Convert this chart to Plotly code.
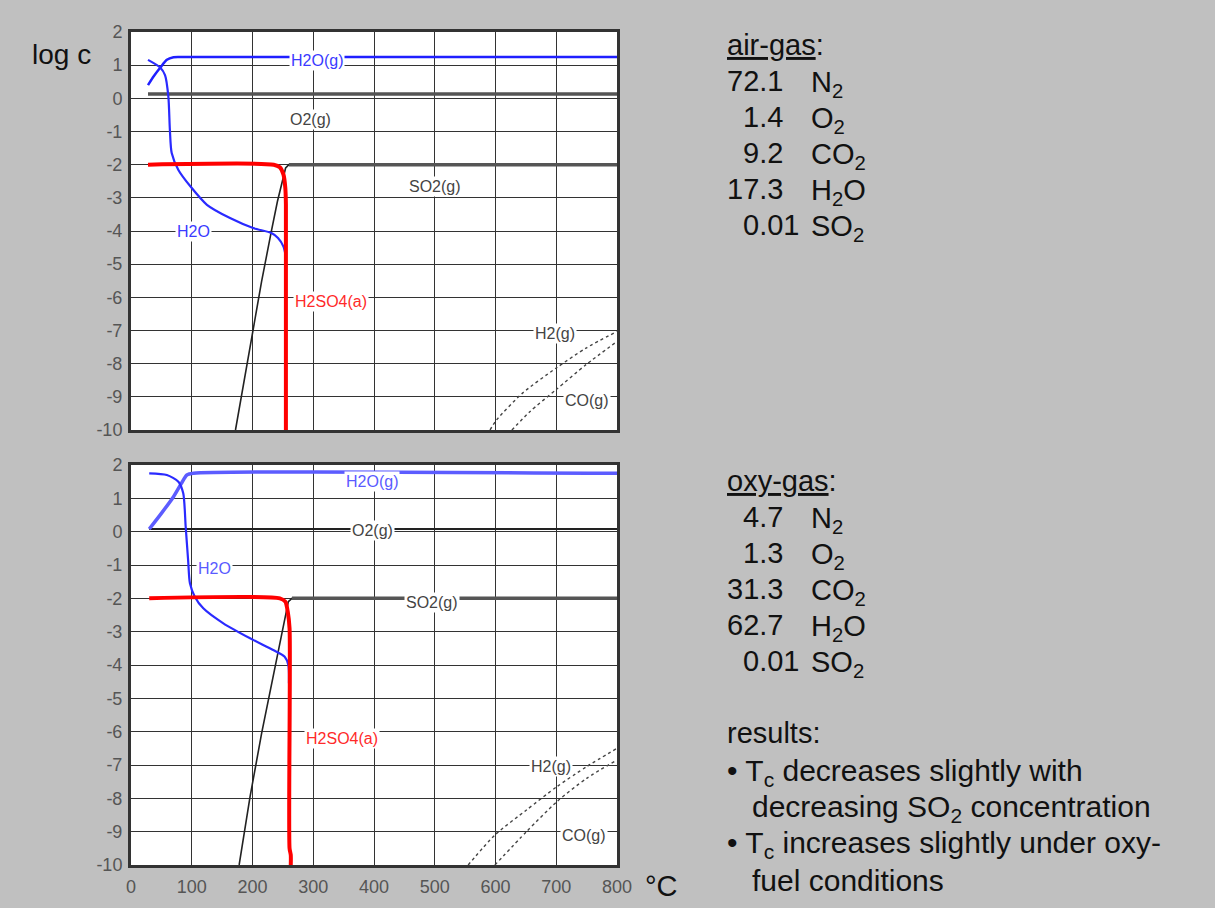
import plotly.graph_objects as go

W, H = 1215, 908

# ---------------- air-gas: log c vs temperature (°C) ----------------
air_h2o_g_T = [28, 38, 48, 59, 70, 80, 800]
air_h2o_g_c = [0.40, 0.68, 0.92, 1.16, 1.24, 1.25, 1.25]

air_h2o_l_T = [28, 48, 56, 61.5, 64, 67, 78, 98, 125, 163, 201, 231, 242, 251, 255]
air_h2o_l_c = [1.16, 0.93, 0.70, 0.05, -0.95, -1.65, -2.16, -2.66, -3.21, -3.61, -3.91, -4.06, -4.21, -4.47, -4.78]

air_o2_T = [28, 800]
air_o2_c = [0.13, 0.13]

air_so2_T = [172, 201, 215, 231, 241, 254.5, 260, 800]
air_so2_c = [-10, -6.98, -5.52, -4.01, -3.11, -2.10, -2.0, -2.0]

air_h2so4_T = [28, 235, 245, 251, 254, 255, 255]
air_h2so4_c = [-2.0, -2.0, -2.08, -2.3, -2.7, -3.2, -10]

air_h2_T = [591, 602, 645, 700, 749, 800]
air_h2_c = [-10, -9.69, -8.88, -8.13, -7.53, -7.03]

air_co_T = [627, 657, 700, 749, 800]
air_co_c = [-10, -9.44, -8.78, -8.03, -7.33]

# ---------------- oxy-gas ----------------
oxy_h2o_g_T = [30, 50, 70, 83, 92, 103, 800]
oxy_h2o_g_c = [0.08, 0.55, 1.05, 1.45, 1.70, 1.75, 1.75]

oxy_h2o_l_T = [30, 59, 78, 86, 90, 94, 97, 105, 119, 152, 196, 234, 253, 259, 260]
oxy_h2o_l_c = [1.75, 1.70, 1.50, 1.15, 0.15, -0.85, -1.55, -1.95, -2.30, -2.75, -3.20, -3.55, -3.75, -4.0, -4.55]

oxy_o2_T = [30, 800]
oxy_o2_c = [0.08, 0.08]

oxy_so2_T = [178, 196, 215, 240, 259, 265, 800]
oxy_so2_c = [-10, -7.95, -6.05, -3.85, -2.10, -2.0, -2.0]

oxy_h2so4_T = [30, 245, 254, 258, 261, 261, 263, 263]
oxy_h2so4_c = [-2.0, -2.0, -2.1, -2.4, -2.9, -9.5, -9.7, -10]

oxy_h2_T = [555, 599, 651, 701, 750, 800]
oxy_h2_c = [-10, -9.1, -8.35, -7.65, -7.05, -6.5]

oxy_co_T = [599, 651, 701, 750, 800]
oxy_co_c = [-10, -9.0, -8.1, -7.4, -6.85]

# curve labels: (text, T, log c, colour)
air_labels = [
    ("H2O(g)", 306, 1.15, "#3a3aff"),
    ("O2(g)", 296, -0.65, "#444444"),
    ("SO2(g)", 500, -2.66, "#444444"),
    ("H2O", 103, -4.01, "#3a3aff"),
    ("H2SO4(a)", 330, -6.12, "#ff2a2a"),
    ("H2(g)", 698, -7.1, "#444444"),
    ("CO(g)", 750, -9.12, "#444444"),
]
oxy_labels = [
    ("H2O(g)", 397, 1.5, "#5a5aff"),
    ("O2(g)", 397, 0.05, "#444444"),
    ("H2O", 138, -1.1, "#5a5aff"),
    ("SO2(g)", 495, -2.12, "#444444"),
    ("H2SO4(a)", 347, -6.2, "#ff2a2a"),
    ("H2(g)", 691, -7.03, "#444444"),
    ("CO(g)", 745, -9.1, "#444444"),
]

x_ticks = [0, 100, 200, 300, 400, 500, 600, 700, 800]
y_ticks = [2, 1, 0, -1, -2, -3, -4, -5, -6, -7, -8, -9, -10]

# composition tables (vol-%)
air_values = ["72.1", "1.4", "9.2", "17.3", "0.01"]
oxy_values = ["4.7", "1.3", "31.3", "62.7", "0.01"]
species = ["N<sub>2</sub>", "O<sub>2</sub>", "CO<sub>2</sub>", "H<sub>2</sub>O", "SO<sub>2</sub>"]
results = [
    ("• T<sub>c</sub> decreases slightly with", 727),
    ("decreasing SO<sub>2</sub> concentration", 752),
    ("• T<sub>c</sub> increases slightly under oxy-", 727),
    ("fuel conditions", 752),
]

fig = go.Figure()


def add_curve(xs, ys, color, width, ax, dash="solid", shape="linear"):
    suffix = "" if ax == 1 else str(ax)
    fig.add_trace(go.Scatter(
        x=xs, y=ys, mode="lines",
        line=dict(color=color, width=width, dash=dash, shape=shape, smoothing=0.7),
        xaxis="x" + suffix, yaxis="y" + suffix,
        showlegend=False, hoverinfo="skip",
    ))


# air-gas panel
add_curve(air_o2_T, air_o2_c, "#555555", 3.5, 1)
add_curve(air_so2_T, air_so2_c, "#222222", 1.6, 1)
add_curve(air_so2_T[-2:], air_so2_c[-2:], "#555555", 3.5, 1)
add_curve(air_h2_T, air_h2_c, "#444444", 1.4, 1, dash="dot", shape="spline")
add_curve(air_co_T, air_co_c, "#444444", 1.4, 1, dash="dot", shape="spline")
add_curve(air_h2o_g_T, air_h2o_g_c, "#1f1fff", 2.5, 1, shape="spline")
add_curve(air_h2o_l_T, air_h2o_l_c, "#2a2aff", 2.2, 1, shape="spline")
add_curve(air_h2so4_T, air_h2so4_c, "#ff0000", 4, 1, shape="spline")

# oxy-gas panel
add_curve(oxy_o2_T, oxy_o2_c, "#222222", 2.2, 2)
add_curve(oxy_so2_T, oxy_so2_c, "#222222", 1.6, 2)
add_curve(oxy_so2_T[-2:], oxy_so2_c[-2:], "#555555", 3.5, 2)
add_curve(oxy_h2_T, oxy_h2_c, "#444444", 1.4, 2, dash="dot", shape="spline")
add_curve(oxy_co_T, oxy_co_c, "#444444", 1.4, 2, dash="dot", shape="spline")
add_curve(oxy_h2o_g_T, oxy_h2o_g_c, "#5c5cff", 3.5, 2, shape="spline")
add_curve(oxy_h2o_l_T, oxy_h2o_l_c, "#2a2aff", 2.2, 2, shape="spline")
add_curve(oxy_h2so4_T, oxy_h2so4_c, "#ff0000", 4, 2, shape="spline")

NARROW = "Liberation Sans Narrow, Liberation Sans, Arial, sans-serif"
TICK_FONT = dict(family=NARROW, size=18, color="#555555")

x_dom = [131 / W, 617 / W]
top_dom = [1 - 430 / H, 1 - 32 / H]
bot_dom = [1 - 865 / H, 1 - 465 / H]

common_x = dict(range=[0, 800], tickvals=x_ticks, ticktext=[str(v) for v in x_ticks],
                showgrid=True, gridcolor="#333333",
                gridwidth=1.4, zeroline=False, showline=True, mirror=True,
                linecolor="#333333", linewidth=3, ticks="", tickfont=TICK_FONT,
                fixedrange=True, domain=x_dom, automargin=False)
common_y = dict(range=[-10, 2], tickvals=y_ticks, ticktext=[str(v) for v in y_ticks],
                showgrid=True, gridcolor="#333333",
                gridwidth=1.4, zeroline=False, showline=True, mirror=True,
                linecolor="#333333", linewidth=3, ticks="", tickfont=TICK_FONT,
                fixedrange=True, ticklabelstandoff=2, automargin=False)

fig.update_layout(
    width=W, height=H,
    margin=dict(l=0, r=0, t=0, b=0, autoexpand=False),
    paper_bgcolor="#c0c0c0",
    plot_bgcolor="#ffffff",
    xaxis=dict(common_x, anchor="y", showticklabels=False),
    yaxis=dict(common_y, anchor="x", domain=top_dom),
    xaxis2=dict(common_x, anchor="y2", showticklabels=True, ticklabelstandoff=3),
    yaxis2=dict(common_y, anchor="x2", domain=bot_dom),
)

annotations = []

for ax, labels in ((1, air_labels), (2, oxy_labels)):
    suffix = "" if ax == 1 else str(ax)
    for text, t, c, col in labels:
        annotations.append(dict(
            x=t, y=c, xref="x" + suffix, yref="y" + suffix, text=text, showarrow=False,
            font=dict(family=NARROW, size=16, color=col),
            bgcolor="#ffffff", borderpad=1, xanchor="center", yanchor="middle",
        ))

TEXT_FONT = dict(family="Liberation Sans, Arial, Helvetica, sans-serif", size=29, color="#111111")


def paper_text(text, px, py, size=29, xanchor="left"):
    annotations.append(dict(
        x=px / W, y=1 - py / H, xref="paper", yref="paper", text=text, showarrow=False,
        font=dict(TEXT_FONT, size=size), xanchor=xanchor, yanchor="middle", align="left",
    ))


paper_text("log c", 30, 55, size=28)
paper_text("°C", 643, 886, size=29)

DIGIT_W = 16


def table(title, values, top_y):
    paper_text(title, 725, top_y)
    for i, (v, s) in enumerate(zip(values, species)):
        row_y = top_y + 36 * (i + 1)
        n_int = len(v.split(".")[0])
        paper_text(v, 725 + (2 - n_int) * DIGIT_W, row_y)
        paper_text(s, 809, row_y + 3)


table("<u>air-gas</u>:", air_values, 45)
table("<u>oxy-gas</u>:", oxy_values, 481)

paper_text("results:", 725, 733)
for i, (line, px) in enumerate(results):
    paper_text(line, px - 2, 769 + 36 * i + 3, size=30)

fig.update_layout(annotations=annotations)

fig.write_html("out.html")
